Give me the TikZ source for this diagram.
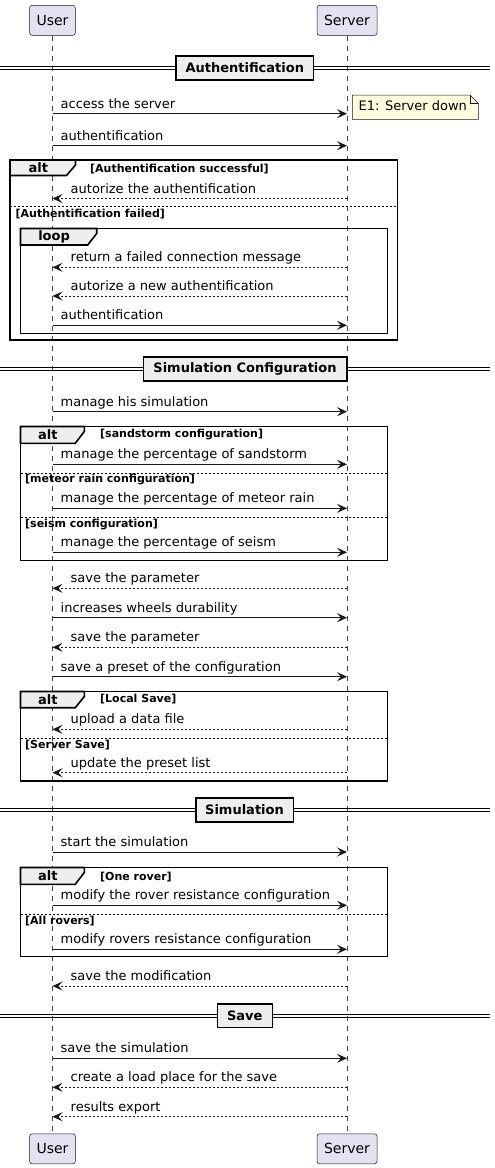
\documentclass[tikz,border=0pt]{standalone}
\usepackage{fontspec}
\setmainfont{DejaVu Sans}
\usetikzlibrary{arrows.meta}
\definecolor{partfill}{HTML}{E2E2F0}
\definecolor{ink}{HTML}{181818}
\definecolor{tabfill}{HTML}{EEEEEE}
\definecolor{notefill}{HTML}{FEFFDD}
\newcounter{mc}
\tikzset{
 part/.style={draw=ink, line width=0.5pt, fill=partfill, rounded corners=2.5pt, minimum height=30pt, inner sep=0pt, font=\fontsize{14}{16}\selectfont},
 life/.style={draw=ink!80, line width=0.5pt, dash pattern=on 5pt off 5pt},
 msg/.style={draw=ink, line width=1pt, -{Stealth[length=10pt,width=9pt,inset=4pt]}},
 ret/.style={msg, dash pattern=on 2pt off 2pt},
 mtxt/.style={anchor=base west, inner sep=0pt, font=\fontsize{13}{15}\selectfont},
 divline/.style={draw=black, line width=1pt},
 divbox/.style={draw=black, line width=1.6pt, fill=tabfill, minimum height=23.5pt, inner sep=0pt, font=\bfseries\fontsize{13}{15}\selectfont},
 frame/.style={draw=black, line width=1.6pt},
 tab/.style={draw=black, line width=1.6pt, fill=tabfill},
 tabtxt/.style={inner sep=0pt, font=\bfseries\fontsize{13}{15}\selectfont},
 guard/.style={anchor=west, inner sep=0pt, font=\bfseries\fontsize{11}{13}\selectfont},
 sepline/.style={draw=black, line width=1pt, dash pattern=on 2pt off 2pt},
 notebox/.style={draw=ink, line width=0.5pt, fill=notefill},
 notetxt/.style={anchor=base west, inner sep=0pt, font=\fontsize{13}{15}\selectfont},
}
\newcommand\fwdmsg[2]{\stepcounter{mc}\draw[msg] (uT |- 0,#1) -- (sT |- 0,#1) node[mtxt, at start, xshift=7.7pt, yshift=5.5pt] (m\arabic{mc}) {#2};}
\newcommand\retmsg[2]{\stepcounter{mc}\draw[ret] (sT |- 0,#1) -- (uT |- 0,#1) node[mtxt, at end, xshift=17.7pt, yshift=5.5pt] (m\arabic{mc}) {#2};}
% divider: name, center y, center x, width, text
\newcommand\divider[5]{%
 \draw[divline] (0,#2-1.7) -- (490,#2-1.7);
 \draw[divline] (0,#2+1.7) -- (490,#2+1.7);
 \node[divbox, minimum width=#4pt] (#1) at (#3,#2) {#5};}
% fragment tab: name, x0, top, tab right, tab bottom, label
\newcommand\fragtab[6]{%
 \draw[tab] (#2,#3) -- (#4,#3) -- (#4,#3+5) -- (#4-9,#5) -- (#2,#5) -- cycle;
 \node[tabtxt] (#1) at ({(#2+#4-9)/2},{(#3+#5)/2}) {#6};}
\begin{document}
\begin{tikzpicture}[x=1pt,y=-1pt]
\useasboundingbox (0,0) rectangle (495,1168);
% participants
\node[part, minimum width=45.7pt] (uT) at (52.5,20.3) {User};
\node[part, minimum width=60pt] (sT) at (347,20.3) {Server};
\node[part, minimum width=45.7pt] (uB) at (52.5,1148.8) {User};
\node[part, minimum width=60pt] (sB) at (347,1148.8) {Server};
\draw[life] (uT.south) -- (uB.north);
\draw[life] (sT.south) -- (sB.north);

% ---- Authentification
\divider{d1}{68}{244.8}{137.7}{Authentification}
\fwdmsg{113.7}{access the server}
\draw[notebox] (352.3,95) -- (470,95) -- (478.3,103.3) -- (478.3,119.3) -- (352.3,119.3) -- cycle;
\draw[notebox, fill=none] (470,95) -- (470,103.3) -- (478.3,103.3);
\node[notetxt] (note) at (358.5,110.7) {E1: Server down};
\fwdmsg{145.7}{authentification}
\draw[frame] (10,160) rectangle (397.5,340);
\fragtab{alt1}{10}{160}{75.5}{175.5}{alt}
\node[guard] (g1a) at (90,169) {[Authentification successful]};
\retmsg{198.5}{autorize the authentification}
\draw[sepline] (10,206.7) -- (397.5,206.7);
\node[guard] (g1b) at (15.5,214.3) {[Authentification failed]};
\draw[frame] (20.5,228.5) rectangle (387.5,333.5);
\fragtab{loop1}{20.5}{228.5}{96.7}{245}{loop}
\retmsg{267.3}{return a failed connection message}
\retmsg{296}{autorize a new authentification}
\fwdmsg{325.3}{authentification}

% ---- Simulation Configuration
\divider{d2}{369}{245}{203.4}{Simulation Configuration}
\fwdmsg{411.7}{manage his simulation}
\draw[frame] (20.5,426.5) rectangle (387.5,560.5);
\fragtab{alt2}{20.5}{426.5}{84.3}{443.3}{alt}
\node[guard] (g2a) at (100,435) {[sandstorm configuration]};
\fwdmsg{464.3}{manage the percentage of sandstorm}
\draw[sepline] (20.5,473.3) -- (387.5,473.3);
\node[guard] (g2b) at (25,480) {[meteor rain configuration]};
\fwdmsg{508.3}{manage the percentage of meteor rain}
\draw[sepline] (20.5,517.3) -- (387.5,517.3);
\node[guard] (g2c) at (25,524.3) {[seism configuration]};
\fwdmsg{552.3}{manage the percentage of seism}
\retmsg{588.3}{save the parameter}
\fwdmsg{617.7}{increases wheels durability}
\retmsg{647.3}{save the parameter}
\fwdmsg{676.7}{save a preset of the configuration}
\draw[frame] (20.5,691.5) rectangle (387.5,781);
\fragtab{alt3}{20.5}{691.5}{84.3}{707.7}{alt}
\node[guard] (g3a) at (100,699.3) {[Local Save]};
\retmsg{729.3}{upload a data file}
\draw[sepline] (20.5,738.3) -- (387.5,738.3);
\node[guard] (g3b) at (25,745) {[Server Save]};
\retmsg{772.7}{update the preset list}

% ---- Simulation
\divider{d3}{810}{244.5}{97.6}{Simulation}
\fwdmsg{852}{start the simulation}
\draw[frame] (20.5,867.5) rectangle (387.5,956.5);
\fragtab{alt4}{20.5}{867.5}{84.3}{884.3}{alt}
\node[guard] (g4a) at (100,876.7) {[One rover]};
\fwdmsg{905.3}{modify the rover resistance configuration}
\draw[sepline] (20.5,914.3) -- (387.5,914.3);
\node[guard] (g4b) at (25,921) {[All rovers]};
\fwdmsg{949.3}{modify rovers resistance configuration}
\retmsg{986}{save the modification}

% ---- Save
\divider{d4}{1015.7}{244.8}{55}{Save}
\fwdmsg{1058.3}{save the simulation}
\retmsg{1087.3}{create a load place for the save}
\retmsg{1116.7}{results export}
\end{tikzpicture}
\end{document}
